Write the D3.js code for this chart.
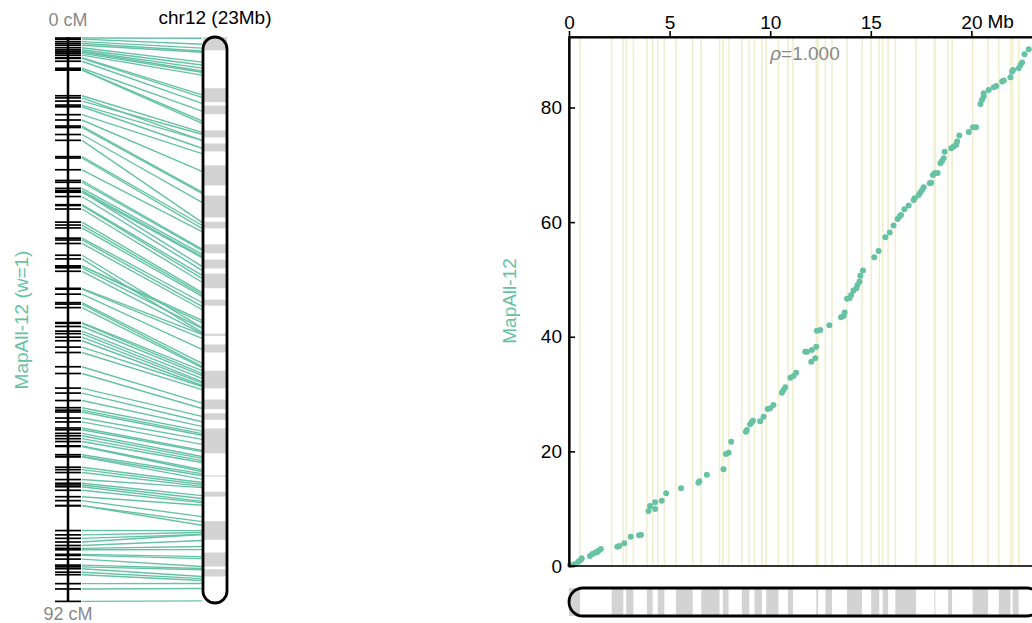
<!DOCTYPE html>
<html>
<head>
<meta charset="utf-8">
<script src="https://cdn.jsdelivr.net/npm/d3@7"></script>
<style>
  body { margin: 0; background: #fff; }
  svg { font-family: "Liberation Sans", Arial, sans-serif; }
</style>
</head>
<body>
<svg id="chart" width="1032" height="623"></svg>
<script>
// markers: physical position (Mb) and genetic position (cM)
const markerMb = [0.05, 0.30, 0.46, 0.58, 0.63, 1.04, 1.16, 1.29, 1.41, 1.46, 1.58, 2.40, 2.50, 2.75, 3.07, 3.48, 3.58,
  3.95, 4.03, 4.28, 4.28, 4.61, 4.83, 5.57, 6.43, 6.48, 6.85, 7.68, 7.80, 7.93, 8.06, 8.79, 8.84, 9.00, 9.09, 9.14,
  9.50, 9.67, 9.87, 10.00, 10.16, 10.58, 10.66, 10.75, 11.00, 11.16, 11.29, 11.74, 11.83, 12.07, 12.29, 12.04, 12.24,
  12.32, 12.49, 12.94, 13.52, 13.65, 13.70, 13.82, 13.95, 14.03, 14.14, 14.28, 14.34, 14.44, 14.48, 14.61, 15.17,
  15.39, 15.72, 15.94, 16.13, 16.33, 16.43, 16.50, 16.67, 16.88, 17.13, 17.18, 17.38, 17.46, 17.55, 17.63, 17.93,
  18.00, 18.09, 18.17, 18.32, 18.46, 18.54, 18.62, 18.67, 19.00, 19.12, 19.24, 19.29, 19.40, 19.87, 20.08, 20.23,
  20.45, 20.53, 20.61, 20.61, 20.86, 21.11, 21.24, 21.53, 21.61, 21.94, 22.02, 22.07, 22.35, 22.44, 22.52, 22.64,
  22.85, 23.36];
const markerCM = [0.17, 0.35, 0.75, 1.05, 1.34, 1.75, 2.09, 2.32, 2.44, 2.67, 2.97, 3.37, 3.49, 3.96, 5.11, 5.36, 5.41,
  9.60, 10.47, 9.95, 11.12, 11.40, 12.69, 13.56, 14.54, 14.78, 15.93, 16.88, 19.55, 19.77, 21.69, 23.44, 23.73, 24.73,
  25.08, 25.36, 25.25, 26.06, 27.40, 27.52, 28.10, 30.24, 30.72, 31.19, 32.86, 33.16, 33.73, 37.40, 37.40, 37.70,
  38.27, 35.65, 36.25, 41.06, 41.19, 42.01, 43.40, 43.63, 44.21, 46.65, 46.77, 47.29, 48.05, 48.46, 49.04, 49.62,
  50.66, 51.54, 53.87, 54.97, 57.36, 58.17, 59.39, 60.56, 60.96, 61.26, 62.25, 62.88, 63.87, 64.17, 64.75, 65.15,
  65.62, 66.09, 66.79, 66.89, 68.24, 68.53, 68.59, 70.28, 70.68, 71.15, 72.30, 72.90, 73.18, 73.47, 74.05, 75.10,
  75.74, 76.56, 76.56, 80.63, 81.33, 81.90, 82.50, 83.07, 83.54, 83.77, 84.52, 84.69, 85.29, 86.27, 86.56, 86.86,
  87.43, 87.84, 89.30, 90.17, 92.20];

// scaffold bands on chr12 (grey ones), Mb
const bandStart = [0, 2.12, 2.84, 3.87, 4.41, 5.32, 6.57, 7.65, 8.59, 9.22, 9.80, 10.88, 12.29, 12.74, 13.82, 15.02,
  15.59, 16.22, 18.16, 18.84, 20.06, 21.36, 22.05];
const bandEnd = [0.55, 2.70, 3.20, 4.16, 4.74, 6.15, 7.48, 7.93, 8.96, 9.59, 10.41, 11.13, 12.38, 13.07, 14.56, 15.42,
  15.86, 17.25, 18.21, 19.04, 20.83, 21.94, 22.35];

const chrLen = 23.45;
const cmMax = 92.3;
const xTicks = [0, 5, 10, 15, 20];
const yTicks = [0, 20, 40, 60, 80];

const teal = "#66c2a5";
const grey = "#d3d3d3";
const markers = markerMb.map((mb, i) => ({ mb: mb, cm: markerCM[i] }));
const bands = bandStart.map((s, i) => ({ s: s, e: bandEnd[i] }));
const edges = bands.flatMap((b) => [b.s, b.e]).filter((d) => d > 0);

const svg = d3.select("#chart");

//===== left panel: linkage map vs chromosome =====
const yMap = d3.scaleLinear().domain([0, cmMax]).range([37, 602]);
const yChr = d3.scaleLinear().domain([0, chrLen]).range([37, 603]);
const left = svg.append("g");

left.selectAll("line.link")
  .data(markers)
  .enter()
  .append("line")
  .attr("x1", 82)
  .attr("x2", 202)
  .attr("y1", (d) => yMap(d.cm))
  .attr("y2", (d) => yChr(d.mb))
  .attr("stroke", teal)
  .attr("stroke-width", 1.4);

left.append("line")
  .attr("x1", 68).attr("x2", 68)
  .attr("y1", yMap(0)).attr("y2", yMap(cmMax))
  .attr("stroke", "#000").attr("stroke-width", 2.5);

left.selectAll("line.tick")
  .data(markers)
  .enter()
  .append("line")
  .attr("x1", 55)
  .attr("x2", 81)
  .attr("y1", (d) => yMap(d.cm))
  .attr("y2", (d) => yMap(d.cm))
  .attr("stroke", "#000")
  .attr("stroke-width", 1.7);

left.append("rect")
  .attr("x", 203).attr("y", 37)
  .attr("width", 24).attr("height", 566)
  .attr("fill", "#fff");
left.selectAll("rect.band")
  .data(bands)
  .enter()
  .append("rect")
  .attr("x", 203)
  .attr("width", 24)
  .attr("y", (d) => yChr(d.s))
  .attr("height", (d) => Math.max(1, yChr(d.e) - yChr(d.s)))
  .attr("fill", grey);
left.append("rect")
  .attr("x", 203).attr("y", 37)
  .attr("width", 24).attr("height", 566)
  .attr("rx", 12)
  .attr("fill", "none")
  .attr("stroke", "#000").attr("stroke-width", 2.8);

left.append("text").attr("x", 68).attr("y", 26)
  .attr("text-anchor", "middle").attr("font-size", 18).attr("fill", "#888")
  .text("0 cM");
left.append("text").attr("x", 68).attr("y", 620)
  .attr("text-anchor", "middle").attr("font-size", 18).attr("fill", "#888")
  .text("92 cM");
left.append("text").attr("x", 215).attr("y", 24)
  .attr("text-anchor", "middle").attr("font-size", 19).attr("fill", "#000")
  .text("chr12 (23Mb)");
left.append("text")
  .attr("transform", "translate(28,320) rotate(-90)")
  .attr("text-anchor", "middle").attr("font-size", 19).attr("fill", teal)
  .text("MapAll-12 (w=1)");

//===== right panel: scatter =====
const x = d3.scaleLinear().domain([0, chrLen]).range([569, 569 + chrLen * 20.12]);
const y = d3.scaleLinear().domain([0, cmMax]).range([566, 37]);
const right = svg.append("g");

right.selectAll("line.edge")
  .data(edges)
  .enter()
  .append("line")
  .attr("x1", (d) => x(d))
  .attr("x2", (d) => x(d))
  .attr("y1", 37)
  .attr("y2", 566)
  .attr("stroke", "#efeecf")
  .attr("stroke-width", 1.6);

right.selectAll("circle")
  .data(markers)
  .enter()
  .append("circle")
  .attr("cx", (d) => x(d.mb))
  .attr("cy", (d) => y(d.cm))
  .attr("r", 3)
  .attr("fill", teal);

right.append("rect")
  .attr("x", x(0)).attr("y", y(cmMax))
  .attr("width", x(chrLen) - x(0)).attr("height", y(0) - y(cmMax))
  .attr("fill", "none").attr("stroke", "#000").attr("stroke-width", 1.6);

const xAxisG = right.append("g").attr("transform", `translate(0,${y(cmMax)})`)
  .call(d3.axisTop(x).tickValues(xTicks).tickSize(6).tickSizeOuter(0).tickPadding(2));
const yAxisG = right.append("g").attr("transform", `translate(${x(0)},0)`)
  .call(d3.axisLeft(y).tickValues(yTicks).tickSize(-6).tickSizeOuter(0).tickPadding(7));
[xAxisG, yAxisG].forEach((g) => {
  g.selectAll(".domain").attr("stroke-width", 2.2);
  g.selectAll(".tick line").attr("stroke-width", 1.6);
  g.selectAll("text").attr("font-size", 19).attr("fill", "#000")
    .attr("font-family", "Liberation Sans, Arial, sans-serif");
});
right.append("text").attr("x", x(20) + 16).attr("y", 28)
  .attr("font-size", 19).text("Mb");

const rho = right.append("text").attr("x", 805).attr("y", 60)
  .attr("text-anchor", "middle").attr("font-size", 19).attr("fill", "#888");
rho.append("tspan").attr("font-style", "italic").text("ρ");
rho.append("tspan").text("=1.000");

right.append("text")
  .attr("transform", "translate(516,301) rotate(-90)")
  .attr("text-anchor", "middle").attr("font-size", 19).attr("fill", teal)
  .text("MapAll-12");

// horizontal chromosome below
right.append("rect")
  .attr("x", x(0)).attr("y", 588)
  .attr("width", x(chrLen) - x(0)).attr("height", 28)
  .attr("fill", "#fff");
right.selectAll("rect.hband")
  .data(bands)
  .enter()
  .append("rect")
  .attr("x", (d) => x(d.s))
  .attr("width", (d) => Math.max(1, x(d.e) - x(d.s)))
  .attr("y", 588)
  .attr("height", 28)
  .attr("fill", grey);
right.append("rect")
  .attr("x", x(0)).attr("y", 588)
  .attr("width", x(chrLen) - x(0)).attr("height", 28)
  .attr("rx", 14)
  .attr("fill", "none").attr("stroke", "#000").attr("stroke-width", 2.8);
</script>
</body>
</html>
